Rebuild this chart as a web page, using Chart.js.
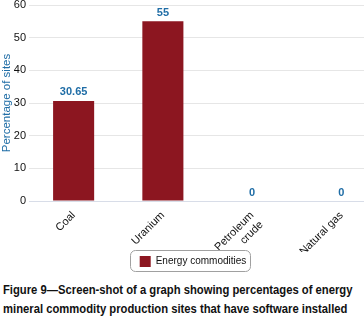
<!DOCTYPE html>
<html>
<head>
<meta charset="utf-8">
<script src="https://cdn.jsdelivr.net/npm/chart.js@4"></script>
<style>
  html, body { margin: 0; padding: 0; background: #fff; overflow: hidden; }
  #wrap { width: 364px; height: 325px; overflow: hidden; position: relative; }
  #box { position: absolute; left: 0; top: 0; width: 386px; height: 277px; }
  #caption {
    position: absolute; left: 3px; top: 281px;
    font-family: "Liberation Sans", Arial, sans-serif;
    font-weight: bold; font-size: 12.5px; line-height: 19px; color: #111;
    white-space: nowrap;
    transform: scaleX(0.9); transform-origin: 0 0;
  }
</style>
</head>
<body>
<div id="wrap">
  <div id="box"><canvas id="chart"></canvas></div>
  <div id="caption">Figure 9—Screen-shot of a graph showing percentages of energy<br>mineral commodity production sites that have software installed</div>
</div>
<script>
    const categories = [['Coal'], ['Uranium'], ['Petroleum', 'crude'], ['Natural gas']];
    const seriesName = 'Energy commodities';
    const values = [30.65, 55, 0, 0];
    const valueLabels = ['30.65', '55', '0', '0'];
    const yTicks = [0, 10, 20, 30, 40, 50, 60];

    const BAR_RED = '#8c1620';
    const LABEL_BLUE = '#1f6da6';
    const FONT = '"Liberation Sans", Arial, sans-serif';

    // value labels above each bar
    const valueLabelPlugin = {
        id: 'valueLabels',
        afterDatasetsDraw(chart) {
            const ctx = chart.ctx;
            const meta = chart.getDatasetMeta(0);
            ctx.save();
            ctx.font = 'bold 11px ' + FONT;
            ctx.fillStyle = LABEL_BLUE;
            ctx.textAlign = 'center';
            ctx.textBaseline = 'bottom';
            meta.data.forEach((bar, i) => {
                ctx.fillText(valueLabels[i], bar.x, bar.y - 3);
            });
            ctx.restore();
        }
    };

    // rounded border round the legend
    const legendBorderPlugin = {
        id: 'legendBorder',
        afterDraw(chart) {
            const boxes = chart.legend && chart.legend.legendHitBoxes;
            if (!boxes || !boxes.length) return;
            const b = boxes[0];
            const ctx = chart.ctx;
            const x = b.left - 10, y = b.top - 6, w = b.width + 13, h = b.height + 10;
            ctx.save();
            ctx.strokeStyle = '#a0a0a0';
            ctx.lineWidth = 1;
            ctx.beginPath();
            ctx.roundRect(Math.round(x) + 0.5, Math.round(y) + 0.5, Math.round(w), Math.round(h), 5);
            ctx.stroke();
            ctx.restore();
        }
    };

    new Chart(document.getElementById('chart'), {
        type: 'bar',
        data: {
            labels: categories,
            datasets: [{
                label: seriesName,
                data: values,
                backgroundColor: BAR_RED,
                borderWidth: 0,
                barPercentage: 0.46,
                categoryPercentage: 1
            }]
        },
        options: {
            responsive: true,
            maintainAspectRatio: false,
            animation: false,
            layout: { padding: { top: 5, right: 0, bottom: 0, left: 0 } },
            scales: {
                x: {
                    grid: { display: false },
                    border: { color: '#d8dde8' },
                    ticks: {
                        color: '#111',
                        maxRotation: 45,
                        minRotation: 45,
                        padding: 0,
                        font: { size: 11, family: FONT }
                    },
                    afterFit(scale) { scale.height = 51; }
                },
                y: {
                    min: 0,
                    max: 60,
                    afterBuildTicks(scale) { scale.ticks = yTicks.map(v => ({ value: v })); },
                    grid: { color: '#e6e6e6', drawTicks: false },
                    border: { display: false },
                    ticks: {
                        color: '#111',
                        padding: 3,
                        font: { size: 11, family: FONT }
                    },
                    title: {
                        display: true,
                        text: 'Percentage of sites',
                        color: LABEL_BLUE,
                        padding: 0,
                        font: { size: 11.5, family: FONT }
                    },
                    afterFit(scale) {
                        scale.width = 29;
                        scale.paddingTop = 0;
                        scale.paddingBottom = 0;
                    }
                }
            },
            plugins: {
                legend: {
                    position: 'bottom',
                    labels: {
                        color: '#111',
                        boxWidth: 11,
                        boxHeight: 11,
                        padding: 4,
                        font: { size: 10, family: FONT }
                    }
                },
                tooltip: { enabled: false }
            }
        },
        plugins: [valueLabelPlugin, legendBorderPlugin]
    });
</script>
</body>
</html>
